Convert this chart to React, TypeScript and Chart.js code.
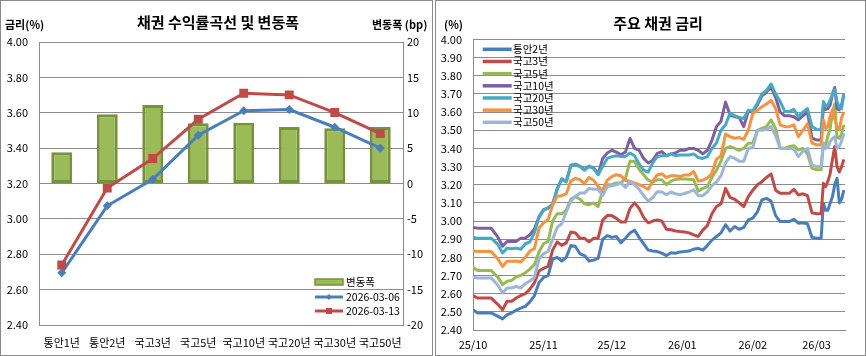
import React, { useEffect, useRef } from 'react';
import { Chart, registerables } from 'chart.js';

Chart.register(...registerables);

const FONT = '"Noto Sans CJK KR", "Noto Sans", sans-serif';
const GRID = '#8c8c8c';
const TEXT = '#000000';

// ---------- Left chart: yield curve & change ----------
const curveCategories = ['통안1년', '통안2년', '국고3년', '국고5년', '국고10년', '국고20년', '국고30년', '국고50년'];
const yield0306 = [2.695, 3.074, 3.224, 3.473, 3.612, 3.618, 3.518, 3.4];
const yield0313 = [2.739, 3.174, 3.341, 3.563, 3.71, 3.701, 3.601, 3.482];
const changeBp = [4.4, 9.8, 11.1, 8.5, 8.6, 8.0, 7.8, 8.0];
const curveSeriesNames = ['변동폭', '2026-03-06', '2026-03-13'];

// ---------- Right chart: major bond yields (days since 2025-10-01) ----------
const dayOffsets = [
  0, 2, 8,
  11, 13, 15, 17, 19, 21, 23, 25, 27, 29, 31, 33, 35, 37, 39,
  41, 43, 45, 47, 49, 51, 53, 55, 57, 59, 61, 63, 65, 67, 69, 71, 73, 75, 77, 79,
  81, 83, 85, 87, 89, 91, 93, 95, 97, 99, 101, 103, 105, 107, 109, 111, 113, 115, 117, 119,
  121, 123, 125, 127, 129, 131, 133, 135, 137, 139, 141, 143, 145, 147, 149, 151, 153,
  154, 155, 156, 157, 158, 159, 160, 161, 162, 163,
];
const monthTickDays = [0, 31, 61, 92, 123, 151];
const monthTickLabels = ['25/10', '25/11', '25/12', '26/01', '26/02', '26/03'];

const msb2y = [
  2.512, 2.494, 2.494,
  2.475, 2.461, 2.484, 2.494, 2.51, 2.52, 2.53, 2.555, 2.59, 2.66, 2.69, 2.7, 2.79, 2.8, 2.78,
  2.8, 2.865, 2.86, 2.82, 2.81, 2.78, 2.785, 2.795, 2.9, 2.92, 2.91, 2.915, 2.88, 2.905, 2.934, 2.95, 2.91, 2.875, 2.84, 2.835,
  2.832, 2.823, 2.81, 2.825, 2.823, 2.83, 2.832, 2.835, 2.845, 2.85, 2.84, 2.865, 2.895, 2.915, 2.935, 2.98, 2.945, 2.97, 2.955, 2.965,
  3.006, 3.016, 3.05, 3.117, 3.125, 3.11, 3.03, 2.997, 2.997, 2.997, 3.01, 2.988, 2.99, 2.985, 2.91, 2.905, 2.905,
  3.098, 3.06, 3.06, 3.1, 3.135, 3.2, 3.236, 3.1, 3.12, 3.171,
];
const ktb3y = [
  2.59, 2.576, 2.576,
  2.54, 2.512, 2.558, 2.558, 2.576, 2.59, 2.6, 2.625, 2.66, 2.725, 2.74, 2.75, 2.84, 2.885, 2.866,
  2.88, 2.94, 2.935, 2.905, 2.905, 2.885, 2.905, 2.906, 3.005, 3.03, 3.03, 3.015, 2.995, 2.995, 3.07, 3.1, 3.07, 3.02, 2.99, 3.0,
  3.006, 3.0, 2.955, 2.952, 2.945, 2.942, 2.94, 2.935, 2.924, 2.915, 2.95, 2.975, 3.04, 3.08, 3.095, 3.18, 3.13, 3.12, 3.1, 3.08,
  3.135, 3.17, 3.2, 3.217, 3.24, 3.26, 3.17, 3.153, 3.153, 3.153, 3.175, 3.144, 3.15, 3.14, 3.045, 3.04, 3.04,
  3.208, 3.19, 3.22, 3.263, 3.34, 3.41, 3.3, 3.27, 3.3, 3.34,
];
const ktb5y = [
  2.745, 2.728, 2.728,
  2.69, 2.65, 2.668, 2.673, 2.693, 2.7, 2.715, 2.735, 2.76, 2.83, 2.875, 2.888, 3.0, 3.04, 3.04,
  3.06, 3.12, 3.135, 3.12, 3.095, 3.09, 3.1, 3.08, 3.17, 3.2, 3.2, 3.21, 3.21, 3.235, 3.33, 3.33, 3.285, 3.255, 3.225, 3.215,
  3.227, 3.227, 3.2, 3.22, 3.23, 3.232, 3.232, 3.23, 3.227, 3.165, 3.18, 3.19, 3.24, 3.28, 3.33, 3.4, 3.41, 3.4, 3.39, 3.4,
  3.428, 3.43, 3.5, 3.51, 3.52, 3.557, 3.51, 3.401, 3.401, 3.41, 3.415, 3.392, 3.4, 3.37, 3.29, 3.283, 3.282,
  3.428, 3.42, 3.47, 3.51, 3.6, 3.645, 3.46, 3.456, 3.48, 3.53,
];
const ktb10y = [
  2.965, 2.961, 2.961,
  2.91, 2.861, 2.888, 2.888, 2.888, 2.906, 2.906, 2.925, 2.956, 3.023, 3.063, 3.073, 3.093, 3.178, 3.233,
  3.218, 3.308, 3.313, 3.303, 3.283, 3.303, 3.293, 3.258, 3.345, 3.375, 3.39, 3.38, 3.365, 3.38, 3.455, 3.4, 3.39, 3.345, 3.32, 3.335,
  3.373, 3.383, 3.36, 3.37, 3.375, 3.39, 3.39, 3.4, 3.4, 3.39, 3.37, 3.39, 3.445, 3.52, 3.55, 3.655, 3.584, 3.575, 3.57, 3.52,
  3.605, 3.6, 3.64, 3.69, 3.71, 3.74, 3.68, 3.6, 3.58, 3.58, 3.575, 3.557, 3.58, 3.6, 3.456, 3.447, 3.447,
  3.63, 3.615, 3.62, 3.64, 3.7, 3.736, 3.62, 3.612, 3.64, 3.7,
];
const ktb20y = [
  2.91, 2.906, 2.906,
  2.87, 2.824, 2.851, 2.848, 2.851, 2.845, 2.875, 2.885, 2.935, 3.02, 3.06, 3.07, 3.09, 3.175, 3.23,
  3.215, 3.305, 3.31, 3.3, 3.28, 3.3, 3.29, 3.255, 3.3, 3.345, 3.355, 3.36, 3.355, 3.356, 3.375, 3.36, 3.315, 3.28, 3.27, 3.32,
  3.355, 3.36, 3.36, 3.37, 3.36, 3.364, 3.364, 3.364, 3.37, 3.35, 3.345, 3.355, 3.4, 3.43, 3.5, 3.53, 3.595, 3.58, 3.57, 3.565,
  3.61, 3.605, 3.65, 3.7, 3.72, 3.755, 3.7, 3.658, 3.605, 3.603, 3.615, 3.575, 3.6, 3.62, 3.52, 3.505, 3.502,
  3.658, 3.635, 3.64, 3.667, 3.7, 3.722, 3.66, 3.625, 3.62, 3.7,
];
const ktb30y = [
  2.835, 2.833, 2.833,
  2.79, 2.75, 2.778, 2.778, 2.78, 2.775, 2.8, 2.835, 2.848, 2.96, 2.99, 3.007, 3.09, 3.137, 3.14,
  3.15, 3.22, 3.235, 3.228, 3.205, 3.24, 3.225, 3.19, 3.17, 3.225, 3.245, 3.255, 3.25, 3.225, 3.218, 3.21, 3.2, 3.19, 3.175, 3.22,
  3.254, 3.26, 3.24, 3.25, 3.25, 3.245, 3.254, 3.254, 3.273, 3.22, 3.225, 3.236, 3.263, 3.34, 3.36, 3.48, 3.465, 3.456, 3.46, 3.45,
  3.5, 3.593, 3.61, 3.63, 3.645, 3.665, 3.62, 3.53, 3.52, 3.52, 3.53, 3.465, 3.5, 3.535, 3.43, 3.42, 3.419,
  3.557, 3.51, 3.52, 3.58, 3.612, 3.56, 3.52, 3.502, 3.57, 3.6,
];
const ktb50y = [
  2.69, 2.686, 2.686,
  2.645, 2.604, 2.631, 2.631, 2.64, 2.631, 2.655, 2.67, 2.69, 2.79, 2.82, 2.833, 2.9, 2.965, 2.985,
  3.05, 3.11, 3.135, 3.154, 3.154, 3.18, 3.175, 3.175, 3.14, 3.19, 3.195, 3.2, 3.21, 3.185, 3.218, 3.2, 3.175, 3.14, 3.11, 3.13,
  3.162, 3.16, 3.145, 3.16, 3.15, 3.145, 3.152, 3.16, 3.172, 3.14, 3.14, 3.16, 3.195, 3.215, 3.25, 3.32, 3.355, 3.345, 3.33, 3.33,
  3.4, 3.405, 3.5, 3.5, 3.505, 3.52, 3.47, 3.401, 3.4, 3.4, 3.4, 3.355, 3.385, 3.4, 3.31, 3.3, 3.3,
  3.428, 3.4, 3.405, 3.44, 3.455, 3.465, 3.4, 3.41, 3.44, 3.484,
];
const bondNames = ['통안2년', '국고3년', '국고5년', '국고10년', '국고20년', '국고30년', '국고50년'];
const bondSeries = [msb2y, ktb3y, ktb5y, ktb10y, ktb20y, ktb30y, ktb50y];
const bondColors = ['#4A7EBB', '#BE4B48', '#98B954', '#7D60A0', '#46AAC5', '#F69240', '#9CB5D8'];

const BLUE = '#4A7EBB';
const RED = '#BE4B48';
const BAR_FILL = '#9BBB59';
const BAR_EDGE = '#76923C';

function drawText(ctx: CanvasRenderingContext2D, text: string, x: number, y: number, font: string, align: CanvasTextAlign) {
  ctx.font = font;
  ctx.fillStyle = TEXT;
  ctx.textAlign = align;
  ctx.textBaseline = 'middle';
  ctx.fillText(text, x, y);
}

export default function App() {
  const leftRef = useRef<HTMLCanvasElement>(null);
  const rightRef = useRef<HTMLCanvasElement>(null);

  useEffect(() => {
    document.body.style.margin = '0';
    Chart.defaults.font.family = FONT;
    Chart.defaults.color = TEXT;

    const leftOverlay = {
      id: 'leftOverlay',
      afterDraw(chart: any) {
        const ctx = chart.ctx as CanvasRenderingContext2D;
        ctx.save();
        drawText(ctx, '채권 수익률곡선 및 변동폭', 218, 22, `bold 15px ${FONT}`, 'center');
        drawText(ctx, '금리(%)', 5, 25, `bold 11px ${FONT}`, 'left');
        drawText(ctx, '변동폭 (bp)', 372, 25, `bold 11px ${FONT}`, 'left');
        // legend
        const lx0 = 315, lx1 = 343, tx = 346;
        const ys = [282, 297, 311];
        ctx.fillStyle = BAR_FILL;
        ctx.strokeStyle = BAR_EDGE;
        ctx.lineWidth = 1.5;
        ctx.fillRect(lx0, ys[0] - 3, lx1 - lx0, 6);
        ctx.strokeRect(lx0, ys[0] - 3, lx1 - lx0, 6);
        ctx.lineWidth = 3;
        ctx.strokeStyle = BLUE;
        ctx.beginPath(); ctx.moveTo(lx0, ys[1]); ctx.lineTo(lx1, ys[1]); ctx.stroke();
        ctx.fillStyle = BLUE;
        const cx = (lx0 + lx1) / 2;
        ctx.beginPath(); ctx.moveTo(cx, ys[1] - 3); ctx.lineTo(cx + 3, ys[1]); ctx.lineTo(cx, ys[1] + 3); ctx.lineTo(cx - 3, ys[1]); ctx.closePath(); ctx.fill();
        ctx.strokeStyle = RED;
        ctx.beginPath(); ctx.moveTo(lx0, ys[2]); ctx.lineTo(lx1, ys[2]); ctx.stroke();
        ctx.fillStyle = RED;
        ctx.fillRect(cx - 3, ys[2] - 3, 6, 6);
        curveSeriesNames.forEach((n, i) => drawText(ctx, n, tx, ys[i], `10.5px ${FONT}`, 'left'));
        ctx.restore();
      },
    };

    const left = new Chart(leftRef.current as HTMLCanvasElement, {
      type: 'bar',
      data: {
        labels: curveCategories,
        datasets: [
          {
            type: 'line',
            label: curveSeriesNames[1],
            data: yield0306,
            yAxisID: 'y',
            borderColor: BLUE,
            backgroundColor: BLUE,
            borderWidth: 3,
            pointStyle: 'rectRot',
            pointRadius: 4.5,
            pointBorderWidth: 0,
            pointBackgroundColor: BLUE,
            tension: 0,
            order: 1,
          } as any,
          {
            type: 'line',
            label: curveSeriesNames[2],
            data: yield0313,
            yAxisID: 'y',
            borderColor: RED,
            backgroundColor: RED,
            borderWidth: 3,
            pointStyle: 'rect',
            pointRadius: 6.3,
            pointBorderWidth: 0,
            pointBackgroundColor: RED,
            tension: 0,
            order: 0,
          } as any,
          {
            type: 'bar',
            label: curveSeriesNames[0],
            data: changeBp,
            yAxisID: 'y1',
            backgroundColor: BAR_FILL,
            borderColor: BAR_EDGE,
            borderWidth: 3,
            borderSkipped: false,
            barPercentage: 0.46,
            categoryPercentage: 1,
            order: 2,
          } as any,
        ],
      },
      options: {
        responsive: false,
        animation: false,
        devicePixelRatio: 1,
        layout: { padding: { top: 42, left: 0, right: 0, bottom: 0 } },
        plugins: { legend: { display: false }, tooltip: { enabled: false }, title: { display: false } },
        scales: {
          x: {
            grid: { display: true, drawOnChartArea: false, drawTicks: false },
            border: { display: true, color: GRID, width: 1 },
            ticks: { font: { family: FONT, size: 11 }, color: TEXT, padding: 11, maxRotation: 0, autoSkip: false },
            afterFit: (s: any) => { s.height = 31; },
          },
          y: {
            position: 'left',
            min: 2.4,
            max: 4.0,
            ticks: { stepSize: 0.2, callback: (v: any) => Number(v).toFixed(2), font: { family: FONT, size: 11 }, color: TEXT, padding: 11 },
            grid: { color: GRID, drawTicks: false, lineWidth: 1 },
            border: { display: true, color: GRID, width: 1 },
            afterFit: (s: any) => { s.width = 39; },
          },
          y1: {
            position: 'right',
            min: -20,
            max: 20,
            ticks: { stepSize: 5, font: { family: FONT, size: 11 }, color: TEXT, padding: 4 },
            grid: { drawOnChartArea: false, drawTicks: false },
            border: { display: true, color: GRID, width: 1 },
            afterFit: (s: any) => { s.width = 30; },
          },
        },
      } as any,
      plugins: [leftOverlay],
    });

    const rightOverlay = {
      id: 'rightOverlay',
      afterDraw(chart: any) {
        const ctx = chart.ctx as CanvasRenderingContext2D;
        ctx.save();
        drawText(ctx, '주요 채권 금리', 223, 23, `bold 15px ${FONT}`, 'center');
        drawText(ctx, '(%)', 18.5, 25, `bold 11px ${FONT}`, 'center');
        const lx0 = 47.7, lx1 = 76.7, tx = 78;
        bondNames.forEach((n, i) => {
          const y = 49.3 + i * 12.17;
          ctx.strokeStyle = bondColors[i];
          ctx.lineWidth = 3.5;
          ctx.beginPath(); ctx.moveTo(lx0, y); ctx.lineTo(lx1, y); ctx.stroke();
          drawText(ctx, n, tx, y, `10.5px ${FONT}`, 'left');
        });
        ctx.restore();
      },
    };

    const right = new Chart(rightRef.current as HTMLCanvasElement, {
      type: 'line',
      data: {
        datasets: bondSeries.map((vals, i) => ({
          label: bondNames[i],
          data: dayOffsets.map((d, j) => ({ x: d, y: vals[j] })),
          borderColor: bondColors[i],
          backgroundColor: bondColors[i],
          borderWidth: 3,
          pointRadius: 0,
          tension: 0,
          borderJoinStyle: 'round',
          order: 6 - i,
        })) as any,
      },
      options: {
        responsive: false,
        animation: false,
        devicePixelRatio: 1,
        layout: { padding: { top: 39.5, left: 0, right: 21, bottom: 0 } },
        plugins: { legend: { display: false }, tooltip: { enabled: false }, title: { display: false } },
        scales: {
          x: {
            type: 'linear',
            min: 0,
            max: 163.5,
            afterBuildTicks: (s: any) => { s.ticks = monthTickDays.map((v) => ({ value: v })); },
            ticks: {
              callback: (v: any) => { const k = monthTickDays.indexOf(Number(v)); return k >= 0 ? monthTickLabels[k] : ''; },
              autoSkip: false,
              maxRotation: 0,
              padding: 8,
              font: { family: FONT, size: 11 },
              color: TEXT,
            },
            grid: { display: true, drawOnChartArea: false, drawTicks: false },
            border: { display: true, color: GRID, width: 1 },
            afterFit: (s: any) => { s.height = 26; },
          },
          y: {
            min: 2.4,
            max: 4.0,
            ticks: { stepSize: 0.1, callback: (v: any) => Number(v).toFixed(2), font: { family: FONT, size: 11 }, color: TEXT, padding: 11 },
            grid: { color: GRID, drawTicks: false, lineWidth: 1 },
            border: { display: true, color: GRID, width: 1 },
            afterFit: (s: any) => { s.width = 38; },
          },
        },
      } as any,
      plugins: [rightOverlay],
    });

    return () => {
      left.destroy();
      right.destroy();
    };
  }, []);

  return (
    <div style={{ position: 'relative', width: 866, height: 356, background: '#ffffff', overflow: 'hidden' }}>
      <canvas ref={leftRef} width={433} height={356} style={{ position: 'absolute', left: 0, top: 0 }} />
      <canvas ref={rightRef} width={431} height={356} style={{ position: 'absolute', left: 435, top: 0 }} />
      <div style={{ position: 'absolute', left: 0, top: 0, width: 433, height: 356, border: '1px solid #8a8a8a', boxSizing: 'border-box', pointerEvents: 'none' }} />
      <div style={{ position: 'absolute', left: 435, top: 0, width: 431, height: 356, border: '1px solid #8a8a8a', boxSizing: 'border-box', pointerEvents: 'none' }} />
    </div>
  );
}
